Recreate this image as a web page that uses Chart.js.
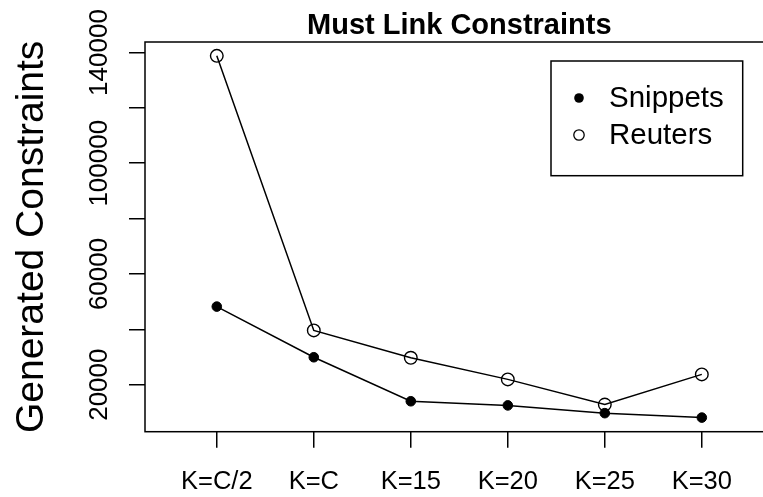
<!DOCTYPE html>
<html>
<head>
<meta charset="utf-8">
<script src="https://cdn.jsdelivr.net/npm/chart.js@4.4.1/dist/chart.umd.min.js"></script>
<style>
  html, body { margin: 0; padding: 0; background: #fff; overflow: hidden; width: 763px; height: 497px; }
  canvas { display: block; }
</style>
</head>
<body>
<canvas id="c" width="790" height="497" style="width:790px;height:497px"></canvas>
<script>
const categories = ['K=C/2', 'K=C', 'K=15', 'K=20', 'K=25', 'K=30'];
const snippets = [48200, 29900, 14000, 12500, 9700, 8100];
const reuters = [138800, 39600, 29700, 21900, 12800, 23700];
const seriesNames = ['Snippets', 'Reuters'];
const yTickValues = [20000, 40000, 60000, 80000, 100000, 120000, 140000];
const yTickLabels = [20000, 60000, 100000, 140000];
const titleText = 'Must Link Constraints';
const yAxisTitle = 'Generated Constraints';

const FONT = '"Liberation Sans", Arimo, Helvetica, Arial, sans-serif';

const rPlot = {
  id: 'rPlot',
  afterDraw(chart) {
    const ctx = chart.ctx;
    const a = chart.chartArea;
    const xs = chart.scales.x, ys = chart.scales.y;
    ctx.save();
    // box
    ctx.strokeStyle = '#000';
    ctx.lineWidth = 1.5;
    ctx.strokeRect(a.left, a.top, a.right - a.left, a.bottom - a.top);
    ctx.fillStyle = '#000';
    // title
    ctx.font = 'bold 29px ' + FONT;
    ctx.textAlign = 'center';
    ctx.textBaseline = 'alphabetic';
    ctx.fillText(titleText, (a.left + a.right) / 2, 34);
    // x tick labels
    ctx.font = '25.5px ' + FONT;
    categories.forEach((c, i) => {
      ctx.fillText(c, xs.getPixelForValue(i + 1), 489);
    });
    // y tick labels (rotated)
    ctx.font = '26px ' + FONT;
    yTickLabels.forEach(v => {
      const y = ys.getPixelForValue(v);
      ctx.save();
      ctx.translate(107, y);
      ctx.rotate(-Math.PI / 2);
      ctx.textAlign = 'center';
      ctx.fillText(String(v), 0, 0);
      ctx.restore();
    });
    // y axis title
    ctx.font = '39px ' + FONT;
    ctx.save();
    ctx.translate(43, (a.top + a.bottom) / 2);
    ctx.rotate(-Math.PI / 2);
    ctx.textAlign = 'center';
    ctx.fillText(yAxisTitle, 0, 0);
    ctx.restore();
    // legend
    const lx = 551, ly = 61, lw = 191.7, lh = 114.7;
    ctx.fillStyle = '#fff';
    ctx.fillRect(lx, ly, lw, lh);
    ctx.strokeStyle = '#000';
    ctx.lineWidth = 1.5;
    ctx.strokeRect(lx, ly, lw, lh);
    ctx.fillStyle = '#000';
    ctx.font = '29.5px ' + FONT;
    ctx.textAlign = 'left';
    ctx.textBaseline = 'middle';
    const rows = [98, 135];
    seriesNames.forEach((n, i) => {
      const yy = rows[i];
      ctx.beginPath();
      if (i === 0) {
        ctx.arc(579, yy, 4.8, 0, Math.PI * 2);
        ctx.fill();
      } else {
        ctx.lineWidth = 1.3;
        ctx.arc(579, yy, 5.2, 0, Math.PI * 2);
        ctx.stroke();
      }
      ctx.fillText(n, 609, yy + 1);
    });
    ctx.restore();
  }
};

new Chart(document.getElementById('c'), {
  type: 'line',
  data: {
    datasets: [
      {
        label: seriesNames[0],
        data: snippets.map((v, i) => ({ x: i + 1, y: v })),
        borderColor: '#000',
        borderWidth: 1.5,
        pointStyle: 'circle',
        pointRadius: 4.8,
        pointBackgroundColor: '#000',
        pointBorderColor: '#000',
        pointBorderWidth: 1,
        tension: 0,
        fill: false
      },
      {
        label: seriesNames[1],
        data: reuters.map((v, i) => ({ x: i + 1, y: v })),
        borderColor: '#000',
        borderWidth: 1.5,
        pointStyle: 'circle',
        pointRadius: 6.3,
        pointBackgroundColor: 'rgba(0,0,0,0)',
        pointBorderColor: '#000',
        pointBorderWidth: 1.4,
        tension: 0,
        fill: false
      }
    ]
  },
  options: {
    responsive: false,
    devicePixelRatio: 1,
    animation: false,
    events: [],
    layout: { padding: { left: 0, right: 16.4, top: 42, bottom: 0 } },
    plugins: { legend: { display: false }, title: { display: false }, tooltip: { enabled: false } },
    scales: {
      x: {
        type: 'linear',
        min: 0.26,
        max: 6.74,
        afterBuildTicks: s => { s.ticks = categories.map((c, i) => ({ value: i + 1 })); },
        afterFit: s => { s.height = 65.3; },
        ticks: { display: false },
        border: { display: false },
        grid: { drawOnChartArea: false, drawTicks: true, tickLength: 16, color: '#000', lineWidth: 1.5 }
      },
      y: {
        type: 'linear',
        min: 3000,
        max: 143800,
        afterBuildTicks: s => { s.ticks = yTickValues.map(v => ({ value: v })); },
        afterFit: s => { s.width = 145; },
        ticks: { display: false },
        border: { display: false },
        grid: { drawOnChartArea: false, drawTicks: true, tickLength: 16, color: '#000', lineWidth: 1.5 }
      }
    }
  },
  plugins: [rPlot]
});
</script>
</body>
</html>
